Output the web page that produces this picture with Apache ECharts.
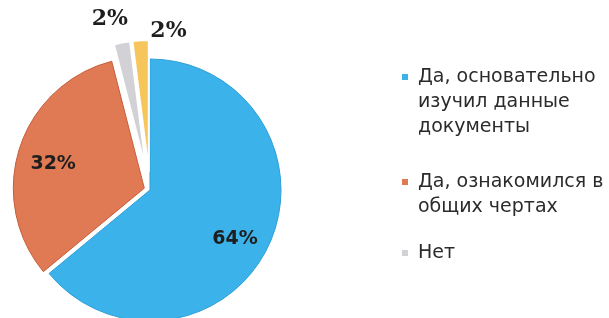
<!DOCTYPE html>
<html>
<head>
<meta charset="utf-8">
<script src="https://cdn.jsdelivr.net/npm/echarts@6/dist/echarts.min.js"></script>
<style>
  html, body { margin: 0; padding: 0; background: #fff; }
  #chart { width: 609px; height: 318px; }
</style>
</head>
<body>
<div id="chart"></div>
<script>
// данные диаграммы
var categories = ["Да, основательно изучил данные документы", "Да, ознакомился в общих чертах", "Нет", "Другое"];
var values = [64, 32, 2, 2];
var legendLines = ["Да, основательно\nизучил данные\nдокументы", "Да, ознакомился в\nобщих чертах", "Нет"];
var colors = ["#3cb2ea", "#e07a55", "#d2d2d6", "#f6c65c"];
var borders = ["#2f9fd8", "#c65e3c", "#ffffff", "#ffffff"];
var borderWidths = [1, 1, 2, 2];

// какие сектора рисует каждый слой (разный отступ "выдвинутых" секторов)
var layerA = [0, 1];
var layerB = [2, 3];

function buildData(visible, selected) {
  return values.map(function (v, i) {
    var show = visible.indexOf(i) >= 0;
    return {
      name: categories[i],
      value: v,
      selected: show && selected.indexOf(i) >= 0,
      itemStyle: show
        ? { color: colors[i], borderColor: borders[i], borderWidth: borderWidths[i] }
        : { color: "transparent", borderWidth: 0 },
      label: { show: show }
    };
  });
}

var labelNudge = {
  0: { dx: 23, dy: 20 },
  1: { dx: -26, dy: -3 },
  2: { dx: 11, dy: -23 },
  3: { dx: 51, dy: -9 }
};

var myChart = echarts.init(document.getElementById("chart"));

// квадратик маркера наверху высокой рамки, чтобы он стоял у первой строки
function legendFor(i, top, lines) {
  var h = 6 + (lines - 1) * 25;
  return {
    data: [{ name: categories[i], itemStyle: { color: colors[i], borderWidth: 0 } }],
    left: 402,
    top: top,
    padding: 0,
    icon: "path://M0,0L6,0L6,6L0,6Z M0," + h + "L6," + h,
    itemWidth: 6,
    itemHeight: h,
    selectedMode: false,
    formatter: function () { return legendLines[i]; },
    textStyle: {
      fontFamily: "DejaVu Sans",
      fontSize: 19,
      lineHeight: 25,
      color: "#2b2b2b",
      padding: [0, 0, 0, 5]
    }
  };
}

var option = {
  backgroundColor: "#fff",
  animation: false,
  legend: [
    legendFor(0, 64.5, 3),
    legendFor(1, 169.5, 2),
    legendFor(2, 240.5, 1)
  ],
  series: [
    {
      type: "pie",
      center: [150, 190],
      radius: 131,
      startAngle: 90,
      silent: true,
      avoidLabelOverlap: false,
      selectedMode: "multiple",
      selectedOffset: 6,
      label: {
        position: "inside",
        formatter: "{c}%",
        fontFamily: "DejaVu Sans",
        fontWeight: "bold",
        fontSize: 19,
        color: "#1e1e1e"
      },
      labelLine: { show: false },
      labelLayout: function (p) { return labelNudge[p.dataIndex]; },
      data: buildData(layerA, [1])
    },
    {
      type: "pie",
      center: [150, 190],
      radius: 131,
      startAngle: 90,
      silent: true,
      avoidLabelOverlap: false,
      selectedMode: "multiple",
      selectedOffset: 19,
      label: {
        position: "outside",
        formatter: "{c}%",
        fontFamily: "DejaVu Serif",
        fontWeight: "bold",
        fontSize: 22,
        color: "#1e1e1e"
      },
      labelLine: { show: false, length: 0, length2: 0 },
      labelLayout: function (p) { return labelNudge[p.dataIndex]; },
      data: buildData(layerB, [2, 3])
    }
  ]
};

myChart.setOption(option);
</script>
</body>
</html>
